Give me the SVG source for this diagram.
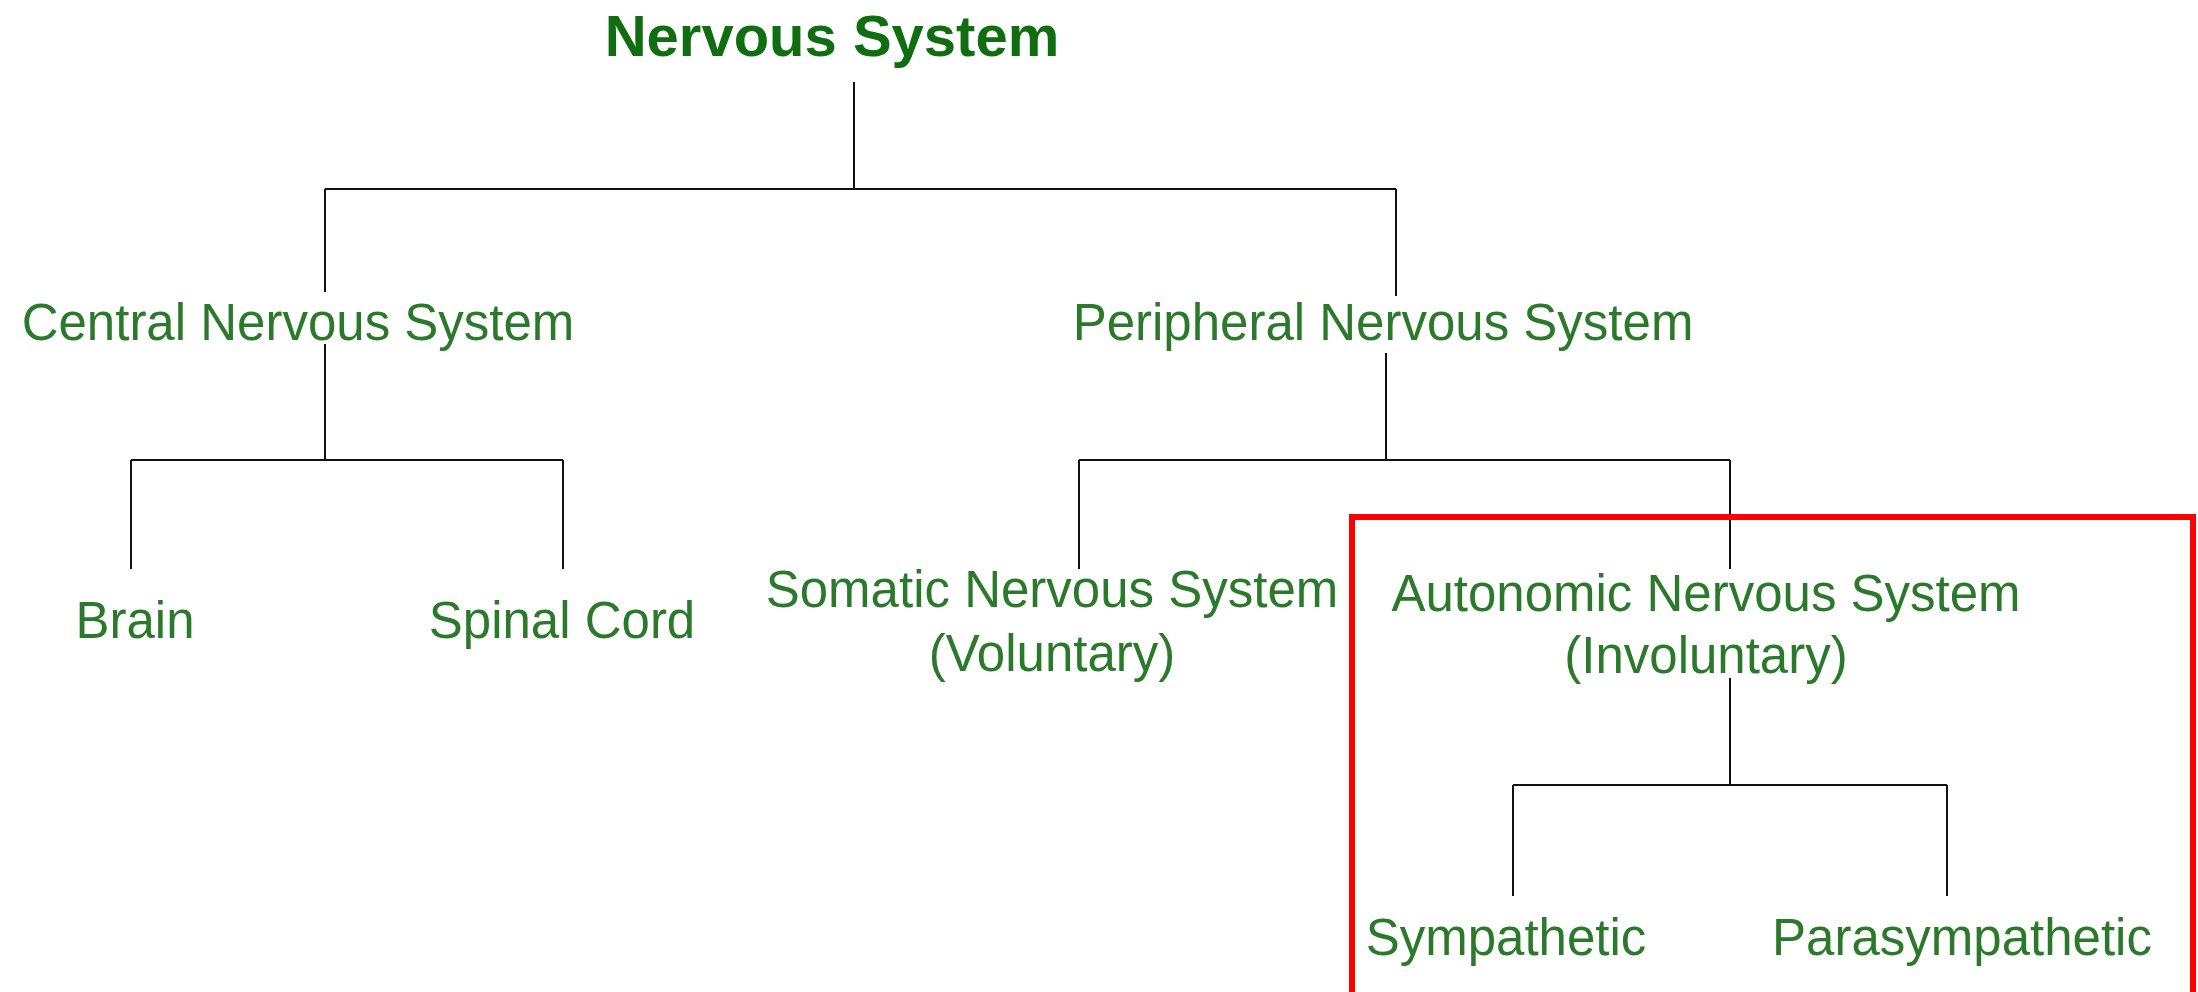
<svg xmlns="http://www.w3.org/2000/svg" width="2198" height="992" viewBox="0 0 2198 992">
  <style>
    .lbl { font-family: "Liberation Sans", Arial, sans-serif; font-size: 51px; fill: #2b7a2b; text-anchor: middle; }
    .title { font-family: "Liberation Sans", Arial, sans-serif; font-size: 58px; font-weight: bold; fill: #106e10; text-anchor: middle; }
    .conn { stroke: #111; stroke-width: 2; fill: none; stroke-linecap: butt; }
    .hl { stroke: #ff0000; stroke-width: 6; fill: none; stroke-linejoin: miter; }
  </style>
  <rect x="0" y="0" width="2198" height="992" fill="#ffffff"/>

  <g id="connectors">
    <!-- root -->
    <path class="conn" d="M854 82 V189"/>
    <path class="conn" d="M325 189 H1396"/>
    <path class="conn" d="M325 189 V292"/>
    <path class="conn" d="M1396 189 V296"/>
    <!-- CNS -->
    <path class="conn" d="M325 344 V460"/>
    <path class="conn" d="M131 460 H563"/>
    <path class="conn" d="M131 460 V569"/>
    <path class="conn" d="M563 460 V569"/>
    <!-- PNS -->
    <path class="conn" d="M1386 353 V460"/>
    <path class="conn" d="M1079 460 H1730"/>
    <path class="conn" d="M1079 460 V569"/>
    <path class="conn" d="M1730 460 V569"/>
    <!-- ANS -->
    <path class="conn" d="M1730 678 V785"/>
    <path class="conn" d="M1513 785 H1947"/>
    <path class="conn" d="M1513 785 V896"/>
    <path class="conn" d="M1947 785 V896"/>
  </g>

  <g id="highlight">
    <path class="hl" d="M1352 1000 V517 H2193 V1000"/>
  </g>

  <g id="nervous-system"><text class="title" x="832" y="56">Nervous System</text></g>
  <g id="central-nervous-system"><text class="lbl" x="298" y="340">Central Nervous System</text></g>
  <g id="peripheral-nervous-system"><text class="lbl" x="1383" y="340">Peripheral Nervous System</text></g>
  <g id="brain"><text class="lbl" x="135" y="638">Brain</text></g>
  <g id="spinal-cord"><text class="lbl" x="562" y="638">Spinal Cord</text></g>
  <g id="somatic-nervous-system">
    <text class="lbl" x="1052" y="607">Somatic Nervous System</text>
    <text class="lbl" x="1052" y="671">(Voluntary)</text>
  </g>
  <g id="autonomic-nervous-system">
    <text class="lbl" x="1706" y="611">Autonomic Nervous System</text>
    <text class="lbl" x="1706" y="673">(Involuntary)</text>
  </g>
  <g id="sympathetic"><text class="lbl" x="1506" y="955">Sympathetic</text></g>
  <g id="parasympathetic"><text class="lbl" x="1962" y="955">Parasympathetic</text></g>
</svg>
